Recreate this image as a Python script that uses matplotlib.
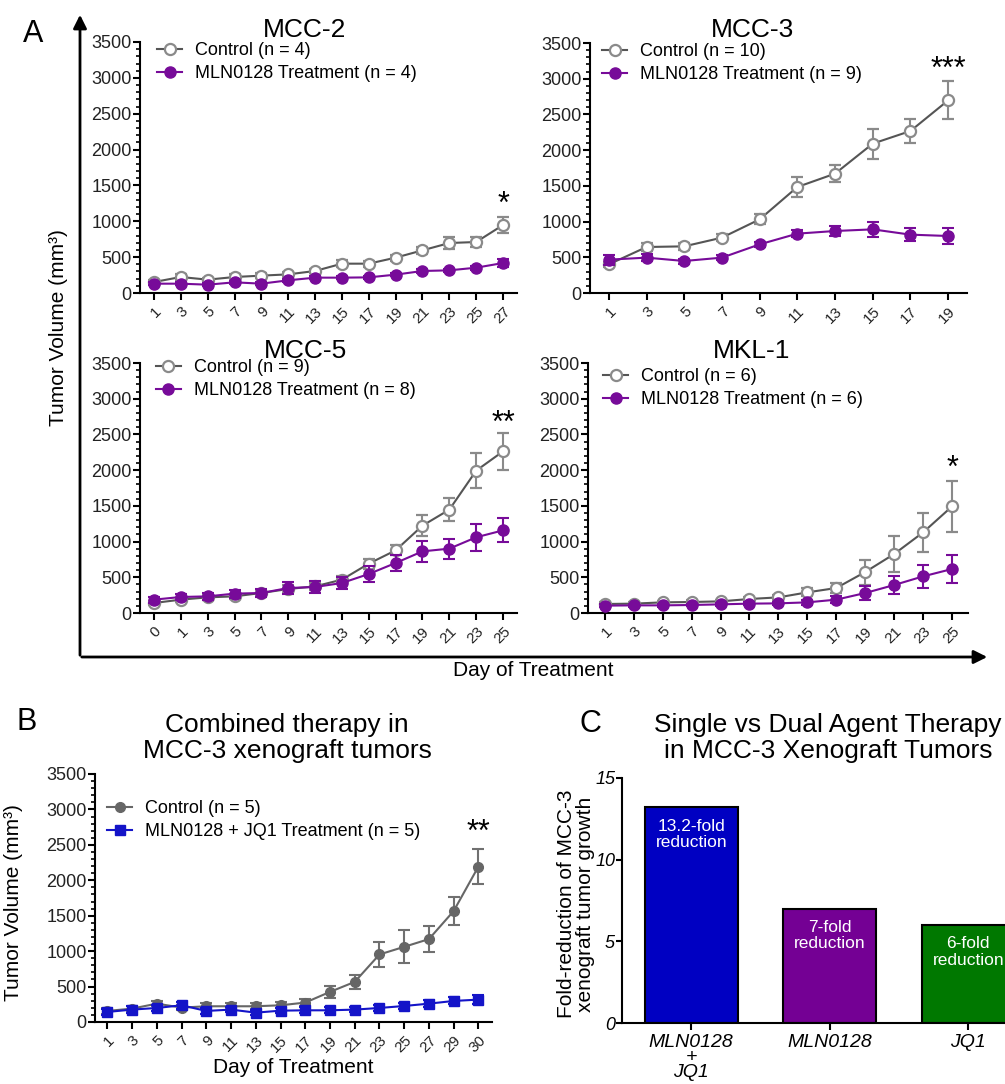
import numpy as np
import matplotlib
matplotlib.use("Agg")
from matplotlib import pyplot as plt
from matplotlib.lines import Line2D
from matplotlib.patches import FancyArrowPatch
from matplotlib.ticker import MultipleLocator

plt.rcParams['font.family'] = ['Liberation Sans', 'DejaVu Sans']

W, H = 1005, 1084

# Panel A data (mean, error)
mcc2_days = [1, 3, 5, 7, 9, 11, 13, 15, 17, 19, 21, 23, 25, 27]
mcc2_ctrl = [153, 223, 186, 223, 242, 260, 307, 409, 409, 493, 595, 697, 711, 948]
mcc2_ctrl_err = [25, 35, 25, 35, 35, 30, 30, 45, 40, 40, 50, 80, 65, 110]
mcc2_mln = [130, 130, 116, 149, 130, 177, 214, 214, 218, 256, 307, 316, 353, 418]
mcc2_mln_err = [20, 20, 20, 25, 20, 20, 25, 20, 20, 25, 25, 25, 30, 55]

mcc3_days = [1, 3, 5, 7, 9, 11, 13, 15, 17, 19]
mcc3_ctrl = [401, 644, 653, 775, 1031, 1484, 1671, 2091, 2268, 2697]
mcc3_ctrl_err = [40, 55, 45, 45, 70, 140, 117, 210, 168, 266]
mcc3_mln = [467, 495, 448, 495, 681, 831, 868, 891, 817, 798]
mcc3_mln_err = [70, 50, 35, 35, 40, 45, 70, 107, 93, 117]

mcc5_days = [0, 1, 3, 5, 7, 9, 11, 13, 15, 17, 19, 21, 23, 25]
mcc5_ctrl = [140, 187, 219, 233, 280, 336, 373, 467, 691, 877, 1223, 1447, 1993, 2263]
mcc5_ctrl_err = [30, 30, 30, 30, 40, 50, 50, 50, 70, 70, 151, 163, 242, 257]
mcc5_mln = [187, 224, 233, 271, 280, 350, 364, 420, 546, 700, 863, 901, 1060, 1157]
mcc5_mln_err = [40, 40, 50, 56, 56, 84, 84, 84, 117, 117, 145, 140, 187, 168]

mkl1_days = [1, 3, 5, 7, 9, 11, 13, 15, 17, 19, 21, 23, 25]
mkl1_ctrl = [126, 131, 149, 154, 163, 196, 219, 289, 350, 574, 826, 1129, 1493]
mkl1_ctrl_err = [25, 25, 25, 25, 25, 30, 30, 56, 70, 175, 254, 273, 359]
mkl1_mln = [103, 107, 107, 112, 121, 131, 135, 149, 187, 280, 392, 513, 616]
mkl1_mln_err = [20, 20, 20, 20, 20, 20, 25, 30, 47, 98, 124, 163, 194]

# Panel B
b_days = [1, 3, 5, 7, 9, 11, 13, 15, 17, 19, 21, 23, 25, 27, 29, 30]
b_ctrl = [156, 189, 259, 203, 222, 222, 222, 236, 274, 425, 566, 953, 1061, 1170, 1566, 2193]
b_ctrl_err = [40, 40, 40, 40, 40, 40, 40, 40, 45, 87, 104, 181, 231, 184, 194, 245]
b_combo = [142, 175, 198, 236, 156, 175, 132, 160, 165, 165, 175, 198, 226, 259, 297, 316]
b_combo_err = [45, 45, 45, 50, 45, 40, 40, 40, 40, 40, 40, 40, 45, 45, 50, 60]

# Panel C
c_groups = ["MLN0128\n+\nJQ1", "MLN0128", "JQ1"]
c_fold = [13.2, 7, 6]
c_text = ["13.2-fold\nreduction", "7-fold\nreduction", "6-fold\nreduction"]

GREY_LINE = '#555555'
GREY = '#8a8a8a'
PURPLE = '#770b99'


def rect(l, t, r, b):
    return [l / W, 1 - b / H, (r - l) / W, (b - t) / H]


def px(x, y):
    return x / W, 1 - y / H


def style_ax(ax, days, xlim):
    ax.set_xlim(*xlim)
    ax.set_ylim(0, 3500)
    for s in ['top', 'right']:
        ax.spines[s].set_visible(False)
    for s in ['left', 'bottom']:
        ax.spines[s].set_linewidth(1.5)
    ax.set_xticks(range(len(days)))
    ax.set_xticklabels([str(d) for d in days], rotation=45, ha='right',
                       va='top', rotation_mode='anchor', fontsize=11, color='#222222')
    ax.set_yticks(range(0, 3501, 500))
    ax.yaxis.set_minor_locator(MultipleLocator(100))
    ax.tick_params(axis='y', labelsize=13, labelcolor='#222222', length=5, width=1.5, pad=1)
    ax.tick_params(axis='y', which='minor', length=3, width=1.2)
    ax.tick_params(axis='x', length=5, width=1.5, pad=3)


def panel_a(ax, days, ctrl, ctrl_err, mln, mln_err, n_ctrl, n_mln, xlim, leg_xy, stars, star_y):
    x = np.arange(len(days))
    ax.plot(x, ctrl, color=GREY_LINE, lw=1.5, zorder=2)
    ax.errorbar(x, ctrl, yerr=ctrl_err, fmt='o', ms=8, mfc='white', mec=GREY, mew=1.6,
                ecolor=GREY, elinewidth=1.5, capsize=4, capthick=1.5, zorder=3)
    ax.errorbar(x, mln, yerr=mln_err, fmt='-o', color=PURPLE, ms=8, lw=1.5,
                elinewidth=1.5, capsize=4, capthick=1.5, zorder=4)
    style_ax(ax, days, xlim)
    h1 = Line2D([], [], color=GREY_LINE, lw=1.5, marker='o', ms=8, mfc='white', mec=GREY, mew=1.6)
    h2 = Line2D([], [], color=PURPLE, lw=1.5, marker='o', ms=8)
    ax.legend([h1, h2], ['Control (n = %d)' % n_ctrl, 'MLN0128 Treatment (n = %d)' % n_mln],
              loc='upper left', bbox_to_anchor=leg_xy, frameon=False, fontsize=13,
              handlelength=1.4, handletextpad=0.7, labelspacing=0.35, borderpad=0, borderaxespad=0)
    ax.text(len(days) - 1, star_y, stars, ha='center', va='baseline', fontsize=22)


fig = plt.figure(figsize=(W / 100, H / 100), dpi=100)

ax1 = fig.add_axes(rect(140, 42, 517, 293))
panel_a(ax1, mcc2_days, mcc2_ctrl, mcc2_ctrl_err, mcc2_mln, mcc2_mln_err, 4, 4,
        (-0.52, 13.52), (0.045, 1.0), '*', 1110)
ax2 = fig.add_axes(rect(590, 43, 967, 293))
panel_a(ax2, mcc3_days, mcc3_ctrl, mcc3_ctrl_err, mcc3_mln, mcc3_mln_err, 10, 9,
        (-0.5, 9.5), (0.032, 1.0), '***', 3010)
ax3 = fig.add_axes(rect(140, 363, 517, 613))
panel_a(ax3, mcc5_days, mcc5_ctrl, mcc5_ctrl_err, mcc5_mln, mcc5_mln_err, 9, 8,
        (-0.52, 13.52), (0.042, 1.016), '**', 2530)
ax4 = fig.add_axes(rect(588, 363, 968, 613))
panel_a(ax4, mkl1_days, mkl1_ctrl, mkl1_ctrl_err, mkl1_mln, mkl1_mln_err, 6, 6,
        (-0.58, 12.55), (0.04, 0.98), '*', 1910)

for (tx, ty), name in zip([(305, 30), (752, 30), (305, 351), (752, 351)],
                          ['MCC-2', 'MCC-3', 'MCC-5', 'MKL-1']):
    fig.text(*px(tx, ty), name, ha='center', va='center', fontsize=19)

# big arrows of panel A
fig.add_artist(FancyArrowPatch(px(80, 658), px(80, 12), transform=fig.transFigure,
                               arrowstyle='-|>', mutation_scale=20, lw=2, color='black'))
fig.add_artist(FancyArrowPatch(px(79, 657), px(990, 657), transform=fig.transFigure,
                               arrowstyle='-|>', mutation_scale=20, lw=2, color='black'))
fig.text(*px(59, 328), 'Tumor Volume (mm³)', rotation=90, ha='center', va='center', fontsize=15)
fig.text(*px(533, 671), 'Day of Treatment', ha='center', va='center', fontsize=15)
fig.text(*px(33, 34), 'A', ha='center', va='center', fontsize=22)

# Panel B
axb = fig.add_axes(rect(95, 774, 492, 1022))
xb = np.arange(len(b_days))
axb.errorbar(xb, b_ctrl, yerr=b_ctrl_err, fmt='-o', color='#666666', ms=7, lw=1.5,
             ecolor='#707070', elinewidth=1.5, capsize=4, capthick=1.5, zorder=3)
axb.errorbar(xb, b_combo, yerr=b_combo_err, fmt='-s', color='#1414c8', ms=7, lw=1.5,
             elinewidth=1.5, capsize=4, capthick=1.5, zorder=4)
style_ax(axb, b_days, (-0.5, 15.55))
hb1 = Line2D([], [], color='#666666', lw=1.5, marker='o', ms=7)
hb2 = Line2D([], [], color='#1414c8', lw=1.5, marker='s', ms=7)
axb.legend([hb1, hb2], ['Control (n = 5)', 'MLN0128 + JQ1 Treatment (n = 5)'],
           loc='upper left', bbox_to_anchor=(0.03, 0.895), frameon=False, fontsize=13,
           handlelength=1.4, handletextpad=0.7, labelspacing=0.35, borderpad=0, borderaxespad=0)
axb.text(len(b_days) - 1, 2560, '**', ha='center', va='baseline', fontsize=22)
axb.set_xlabel('Day of Treatment', fontsize=15, labelpad=2)
fig.text(*px(14, 903), 'Tumor Volume (mm³)', rotation=90, ha='center', va='center', fontsize=15)
fig.text(*px(287, 738), 'Combined therapy in\nMCC-3 xenograft tumors', ha='center', va='center',
         fontsize=19, linespacing=1.15)
fig.text(*px(27, 722), 'B', ha='center', va='center', fontsize=22)

# Panel C
axc = fig.add_axes(rect(622, 778, 1037.5, 1023))
xc = np.arange(len(c_groups))
axc.bar(xc, c_fold, width=0.67, color=['#0000c2', '#740094', '#007800'],
        edgecolor='black', linewidth=1.5)
for i, v in enumerate(c_fold):
    axc.text(i, v - 0.7, c_text[i], ha='center', va='top', color='white', fontsize=12.5,
             linespacing=1.1)
axc.set_xlim(-0.5, 2.5)
axc.set_ylim(0, 15)
for s in ['top', 'right']:
    axc.spines[s].set_visible(False)
for s in ['left', 'bottom']:
    axc.spines[s].set_linewidth(1.5)
axc.set_yticks([0, 5, 10, 15])
axc.set_yticklabels(['0', '5', '10', '15'], fontstyle='italic')
axc.set_xticks(xc)
axc.set_xticklabels(c_groups, fontstyle='italic', fontsize=14, linespacing=0.85)
axc.tick_params(axis='y', labelsize=13, length=4, width=1.5, pad=1)
axc.tick_params(axis='x', length=5, width=1.5, pad=3)
fig.text(*px(576, 904), 'Fold-reduction of MCC-3\nxenograft tumor growth', rotation=90,
         ha='center', va='center', fontsize=15, linespacing=1.0)
fig.text(*px(828, 738), 'Single vs Dual Agent Therapy\nin MCC-3 Xenograft Tumors', ha='center',
         va='center', fontsize=19, linespacing=1.15)
fig.text(*px(590, 724), 'C', ha='center', va='center', fontsize=22)

fig.savefig('out.png', dpi=100)
